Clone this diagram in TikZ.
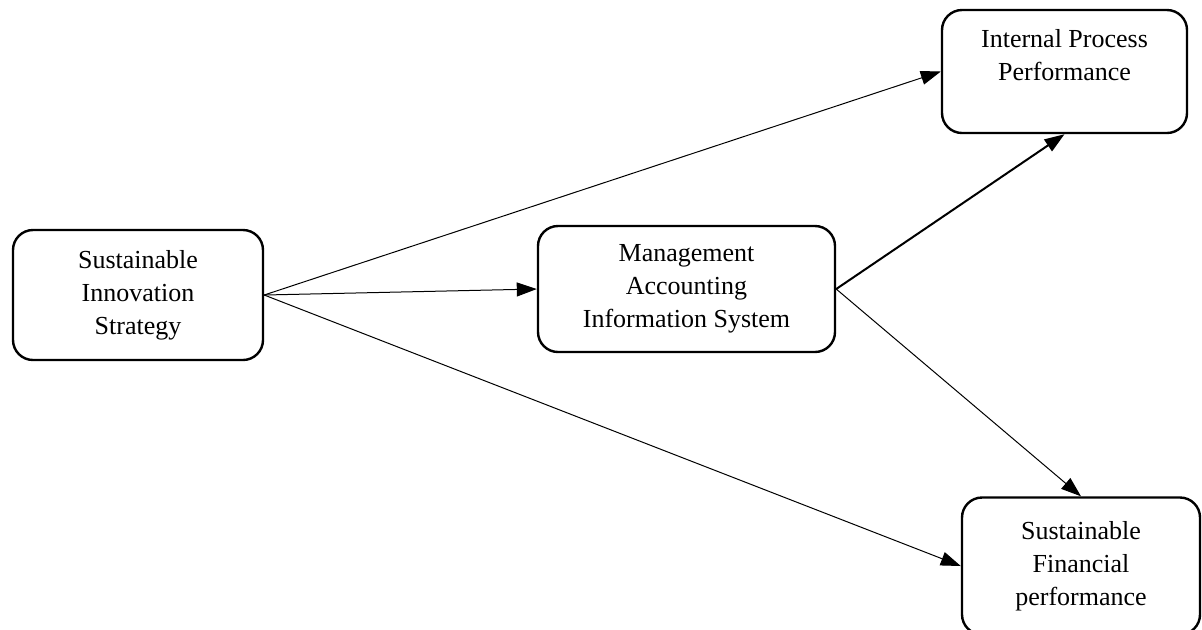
\documentclass[tikz,border=0pt]{standalone}
\usepackage{fontspec}
\setmainfont{Liberation Serif}
\usetikzlibrary{arrows.meta}

\begin{document}
\begin{tikzpicture}[x=0.5pt,y=-0.5pt,
   every node/.style={font={\fontsize{13}{16.5}\selectfont},align=center},
   varbox/.style={draw,line width=1.2pt,rounded corners=10pt,inner sep=0pt},
   path arrow/.style={-{Triangle[length=10pt,width=7pt]},line width=0.5pt}]
\useasboundingbox (0,0) rectangle (1202,629);
% constructs
\node[varbox,minimum width=125pt,minimum height=65pt] (sis) at (138,295)
   {Sustainable\\Innovation\\Strategy};
\node[varbox,minimum width=148.5pt,minimum height=63pt] (mais) at (686.5,289)
   {Management\\Accounting\\Information System};
\node[varbox,minimum width=122.5pt,minimum height=61.5pt] (ipp) at (1064.5,71.5)
   {Internal Process\\Performance\\~};
\node[varbox,minimum width=119pt,minimum height=68.5pt] (sfp) at (1081,566)
   {Sustainable\\Financial\\performance};
% paths
\draw[path arrow] (sis.east) -- (mais.west);
\draw[path arrow] (sis.east) -- (ipp.west);
\draw[path arrow] (sis.east) -- (sfp.west);
\draw[path arrow,line width=1pt] (mais.east) -- (ipp.south);
\draw[path arrow] (mais.east) -- (sfp.north);
\end{tikzpicture}
\end{document}
